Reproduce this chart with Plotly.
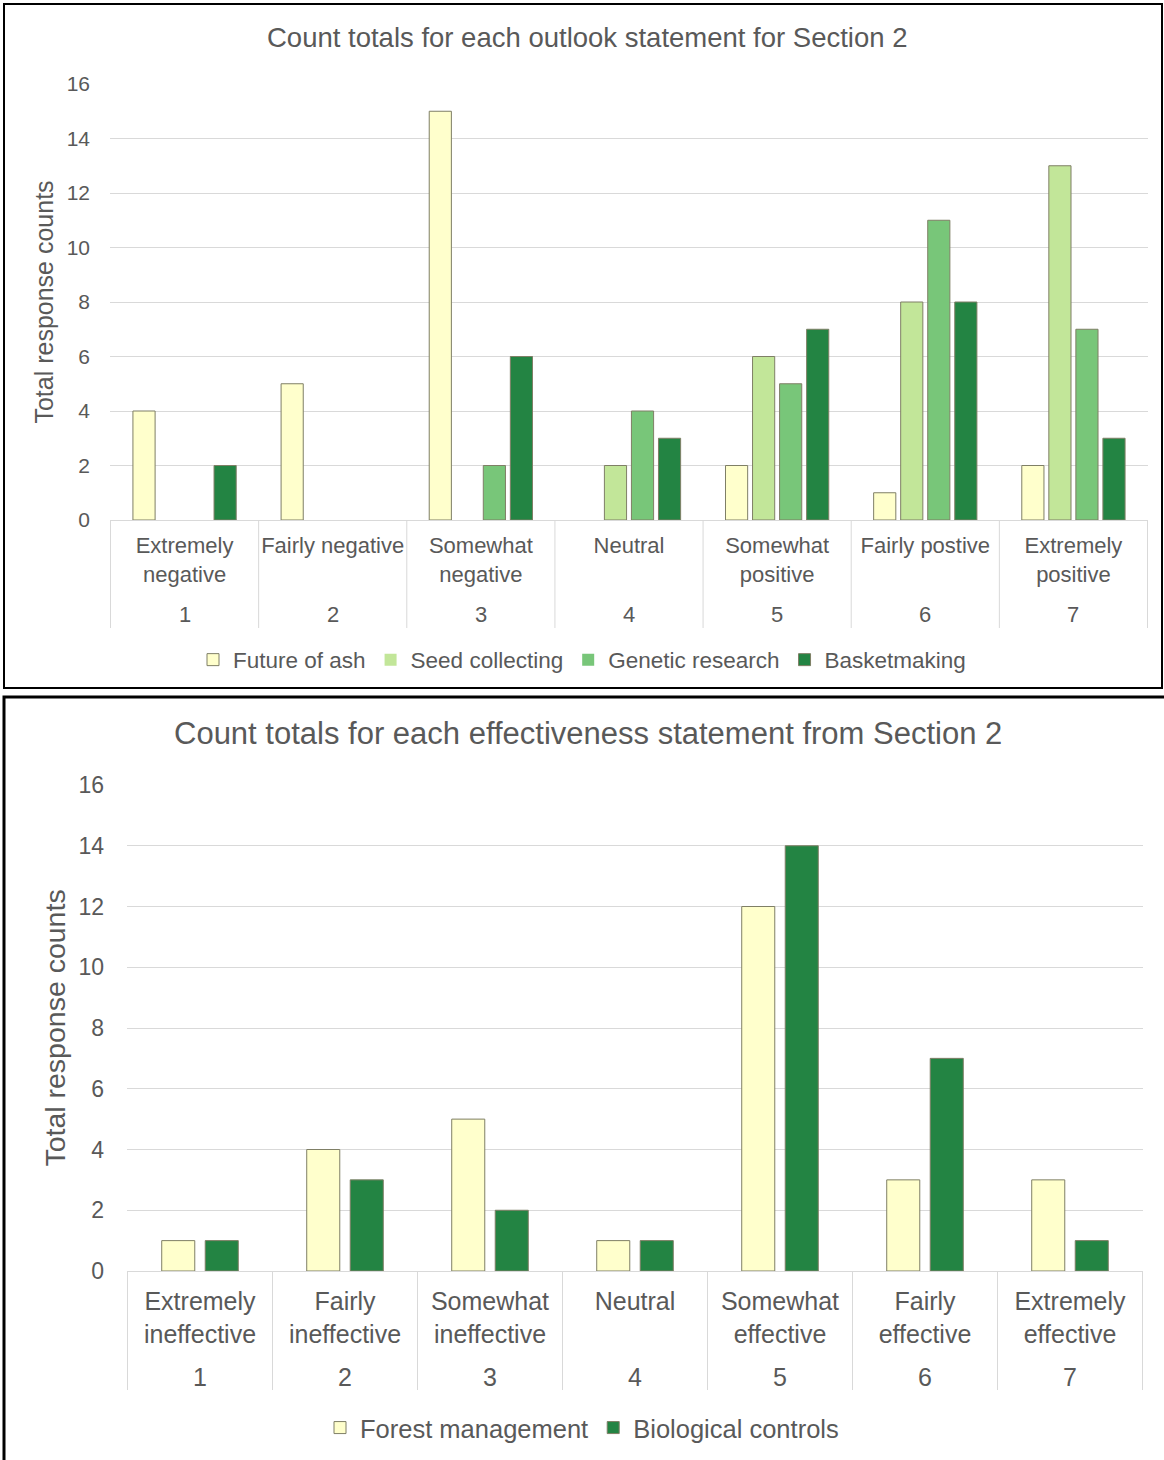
import plotly.graph_objects as go

W, H = 1164, 1460

# ---------------- data ----------------
top_numbers = ["1", "2", "3", "4", "5", "6", "7"]
top_labels = ["Extremely<br>negative", "Fairly negative", "Somewhat<br>negative", "Neutral",
              "Somewhat<br>positive", "Fairly postive", "Extremely<br>positive"]
future_of_ash = [4, 5, 15, 0, 2, 1, 2]
seed_collecting = [0, 0, 0, 2, 6, 8, 13]
genetic_research = [0, 0, 2, 4, 5, 11, 7]
basketmaking = [2, 0, 6, 3, 7, 8, 3]

bot_numbers = ["1", "2", "3", "4", "5", "6", "7"]
bot_labels = ["Extremely<br>ineffective", "Fairly<br>ineffective", "Somewhat<br>ineffective", "Neutral",
              "Somewhat<br>effective", "Fairly<br>effective", "Extremely<br>effective"]
forest_management = [1, 4, 5, 1, 12, 3, 3]
biological_controls = [1, 3, 2, 1, 14, 7, 1]

top_title = "Count totals for each outlook statement for Section 2"
bot_title = "Count totals for each effectiveness statement from Section 2"
y_title = "Total response counts"

# ---------------- style ----------------
FONT = "Liberation Sans, Arial, sans-serif"
TXT = "#595959"
GRID = "#d9d9d9"
C_YEL = "#FFFFCC"
C_LG = "#C2E699"
C_MG = "#78C679"
C_DG = "#238443"
OUTL = "#7f7f66"


def px_x(x):
    return x / W


def px_y(y):
    return 1 - y / H


def line_widths(vals):
    return [1 if v > 0 else 0 for v in vals]


fig = go.Figure()

for name, vals, col in [("Future of ash", future_of_ash, C_YEL),
                        ("Seed collecting", seed_collecting, C_LG),
                        ("Genetic research", genetic_research, C_MG),
                        ("Basketmaking", basketmaking, C_DG)]:
    fig.add_trace(go.Bar(x=top_labels, y=vals, name=name, marker_color=col,
                         marker_line=dict(color=OUTL, width=line_widths(vals)),
                         xaxis="x", yaxis="y", legend="legend"))

bw = 0.228
for name, vals, col, off in [("Forest management", forest_management, C_YEL, -0.264),
                             ("Biological controls", biological_controls, C_DG, 0.036)]:
    fig.add_trace(go.Bar(x=bot_labels, y=vals, name=name, marker_color=col,
                         marker_line=dict(color=OUTL, width=line_widths(vals)),
                         width=bw, offset=off,
                         xaxis="x2", yaxis="y2", legend="legend2"))

common_y = dict(range=[0, 16], dtick=2, showgrid=True, gridcolor=GRID, gridwidth=1,
                zeroline=False, showline=False, ticks="", automargin=False,
                color=TXT)
common_x = dict(type="category", showline=True, linecolor=GRID, linewidth=1,
                ticks="", automargin=False, color=TXT, showgrid=False, tickangle=0)

TOP_AX_Y, TOP_DIV_END, TOP_NUM_Y = 520, 628, 614
BOT_AX_Y, BOT_DIV_END, BOT_NUM_Y = 1271, 1390, 1377

fig.update_layout(
    width=W, height=H,
    margin=dict(l=0, r=0, t=0, b=0),
    paper_bgcolor="white", plot_bgcolor="white",
    font=dict(family=FONT, color=TXT),
    barmode="group", bargap=0.27, bargroupgap=0.18,
    xaxis=dict(domain=[px_x(110), px_x(1148)], anchor="y",
               tickfont=dict(size=22, color=TXT), ticklabelstandoff=6, **common_x),
    yaxis=dict(domain=[px_y(TOP_AX_Y), px_y(84)], anchor="x",
               tickfont=dict(size=21, color=TXT), ticklabelstandoff=19,
               title=dict(text=y_title, font=dict(size=25, color=TXT), standoff=5),
               **common_y),
    xaxis2=dict(domain=[px_x(127), px_x(1143)], anchor="y2",
                tickfont=dict(size=25, color=TXT), ticklabelstandoff=8, **common_x),
    yaxis2=dict(domain=[px_y(BOT_AX_Y), px_y(785)], anchor="x2",
                tickfont=dict(size=23, color=TXT), ticklabelstandoff=22,
                title=dict(text=y_title, font=dict(size=28.5, color=TXT), standoff=4),
                **common_y),
    legend=dict(orientation="h", x=0.5, xanchor="center", y=px_y(660), yanchor="middle",
                font=dict(size=22.5, color=TXT), bgcolor="rgba(0,0,0,0)",
                itemwidth=30, tracegroupgap=0),
    legend2=dict(orientation="h", x=0.5, xanchor="center", y=px_y(1428), yanchor="middle",
                 font=dict(size=25.5, color=TXT), bgcolor="rgba(0,0,0,0)",
                 itemwidth=30, tracegroupgap=0),
    showlegend=True,
)

# outer category level (numbers) and dividers
for xr, nums, num_y, ax_y, div_end, fs in [("x", top_numbers, TOP_NUM_Y, TOP_AX_Y, TOP_DIV_END, 22),
                                           ("x2", bot_numbers, BOT_NUM_Y, BOT_AX_Y, BOT_DIV_END, 25)]:
    for i, n in enumerate(nums):
        fig.add_annotation(text=n, x=i, xref=xr, y=px_y(num_y), yref="paper",
                           showarrow=False, font=dict(size=fs, color=TXT),
                           xanchor="center", yanchor="middle")
    for i in range(len(nums) + 1):
        fig.add_shape(type="line", xref=xr, yref="paper", x0=i - 0.5, x1=i - 0.5,
                      y0=px_y(ax_y), y1=px_y(div_end), line=dict(color=GRID, width=1))

fig.add_annotation(text=top_title, x=px_x(587), y=px_y(38), xref="paper", yref="paper",
                   showarrow=False, font=dict(size=27.5, color=TXT), xanchor="center", yanchor="middle")
fig.add_annotation(text=bot_title, x=px_x(588), y=px_y(733), xref="paper", yref="paper",
                   showarrow=False, font=dict(size=31, color=TXT), xanchor="center", yanchor="middle")

# panel borders
fig.add_shape(type="rect", xref="paper", yref="paper",
              x0=px_x(4), x1=px_x(1162), y0=px_y(688), y1=px_y(4),
              line=dict(color="black", width=2), fillcolor="rgba(0,0,0,0)")
fig.add_shape(type="rect", xref="paper", yref="paper",
              x0=px_x(4), x1=px_x(1168), y0=px_y(1470), y1=px_y(697),
              line=dict(color="black", width=3), fillcolor="rgba(0,0,0,0)")

fig.write_html("out.html")
